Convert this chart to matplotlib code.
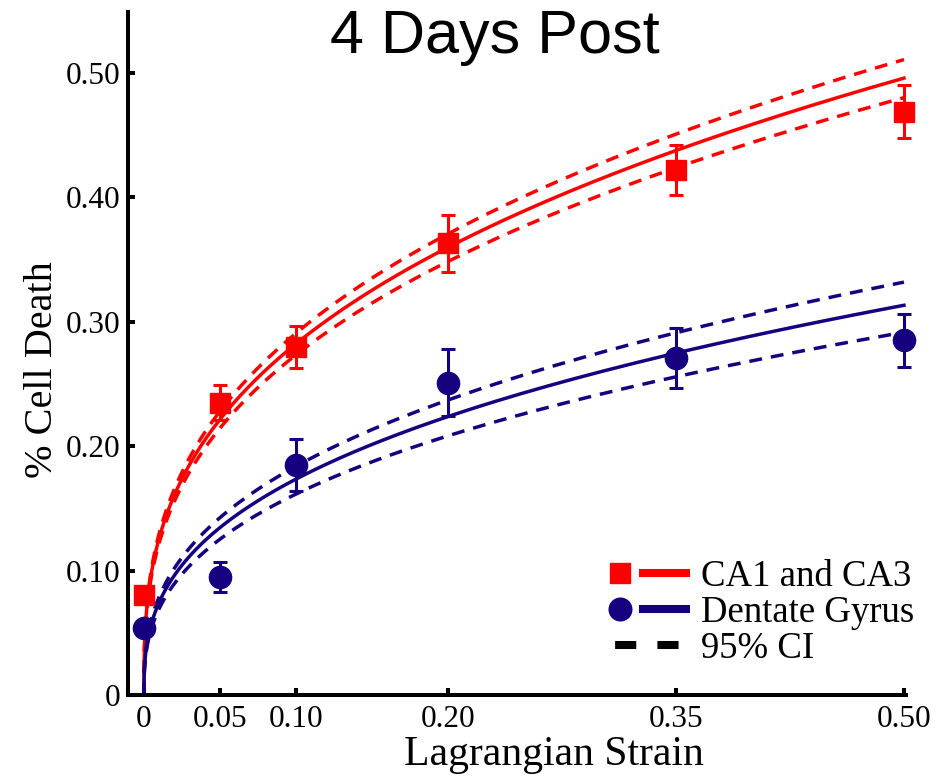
import numpy as np
import matplotlib
matplotlib.use("Agg")
import matplotlib.pyplot as plt
from matplotlib.lines import Line2D
from matplotlib.legend_handler import HandlerTuple

plt.rcParams['font.family'] = ['Liberation Serif', 'DejaVu Serif']

# --- data ---
strain = [0.0, 0.05, 0.10, 0.20, 0.35, 0.50]

ca_mean = [0.080, 0.235, 0.280, 0.363, 0.422, 0.469]
ca_err = [0.006, 0.014, 0.017, 0.023, 0.020, 0.021]

dg_mean = [0.054, 0.095, 0.185, 0.251, 0.271, 0.285]
dg_err = [0.005, 0.012, 0.021, 0.027, 0.024, 0.021]

# power-law fits y = a * x^b, with 95% CI bands (a_lower, a_upper)
ca_fit = (0.632, 0.35)
ca_ci = (0.612, 0.651)
dg_fit = (0.404, 0.367)
dg_ci = (0.376, 0.428)

xticks = [0, 0.05, 0.10, 0.20, 0.35, 0.50]
xtick_labels = ['0', '0.05', '0.10', '0.20', '0.35', '0.50']
yticks = [0, 0.10, 0.20, 0.30, 0.40, 0.50]
ytick_labels = ['0', '0.10', '0.20', '0.30', '0.40', '0.50']

RED = '#ff0000'
NAVY = '#160080'

fig = plt.figure(figsize=(9.39, 7.77), dpi=100)
ax = fig.add_axes([128 / 939, 82 / 777, 777.5 / 939, 683 / 777])

xs = np.concatenate([[0.0], np.geomspace(1e-6, 0.5, 600)])
dash = (0, (3.7, 2.6))

for (a, b), (lo, hi), col in [(ca_fit, ca_ci, RED), (dg_fit, dg_ci, NAVY)]:
    ax.plot(xs, a * xs ** b, color=col, lw=2.5, zorder=2)
    ax.plot(xs, hi * xs ** b, color=col, lw=2.5, linestyle=dash, zorder=2)
    ax.plot(xs, lo * xs ** b, color=col, lw=2.5, linestyle=dash, zorder=2)

ax.errorbar(strain, ca_mean, yerr=ca_err, fmt='s', color=RED, ms=14.5,
            capsize=5, elinewidth=2.2, capthick=2.2, zorder=4, clip_on=False)
ax.errorbar(strain, dg_mean, yerr=dg_err, fmt='o', color=NAVY, ms=16,
            capsize=5, elinewidth=2.2, capthick=2.2, zorder=4, clip_on=False)

ax.set_xlim(-0.0105, 0.501)
ax.set_ylim(0, 0.549)

ax.set_xticks(xticks)
ax.set_xticklabels(xtick_labels)
ax.set_yticks(yticks)
ax.set_yticklabels(ytick_labels)
ax.tick_params(direction='in', length=5, width=2.9, labelsize=22.5)
ax.tick_params(axis='x', pad=7.5)
ax.tick_params(axis='y', pad=5.5)

for side in ['top', 'right']:
    ax.spines[side].set_visible(False)
for side in ['left', 'bottom']:
    ax.spines[side].set_linewidth(2.9)

ax.set_xlabel('Lagrangian Strain', fontsize=30)
ax.xaxis.set_label_coords(0.548, -0.060)
ax.set_ylabel('% Cell Death', fontsize=29)
ax.yaxis.set_label_coords(-0.086, 0.476)

fig.text(495 / 939, 1 - 53 / 777, '4 Days Post', ha='center', va='baseline',
         fontsize=44, family=['Liberation Sans', 'DejaVu Sans'])

# legend: marker + line side by side, then a black dashed CI entry
h_ca = (Line2D([], [], marker='s', ms=15, color=RED, ls='none'),
        Line2D([], [], color=RED, lw=5.8))
h_dg = (Line2D([], [], marker='o', ms=16.3, color=NAVY, ls='none'),
        Line2D([], [], color=NAVY, lw=5.8))
h_ci = Line2D([], [], color='k', lw=5.8, linestyle=(3.125, (2.625, 2.625)))

ax.legend([h_ca, h_dg, h_ci], ['CA1 and CA3', 'Dentate Gyrus', '95% CI'],
          handler_map={tuple: HandlerTuple(ndivide=None, pad=0.06)},
          loc='upper left', bbox_to_anchor=(0.6045, 0.198), frameon=False,
          fontsize=26.5, handlelength=2.4, handletextpad=0.39,
          borderpad=0, borderaxespad=0, labelspacing=0.04)

fig.savefig('out.png', dpi=100)
